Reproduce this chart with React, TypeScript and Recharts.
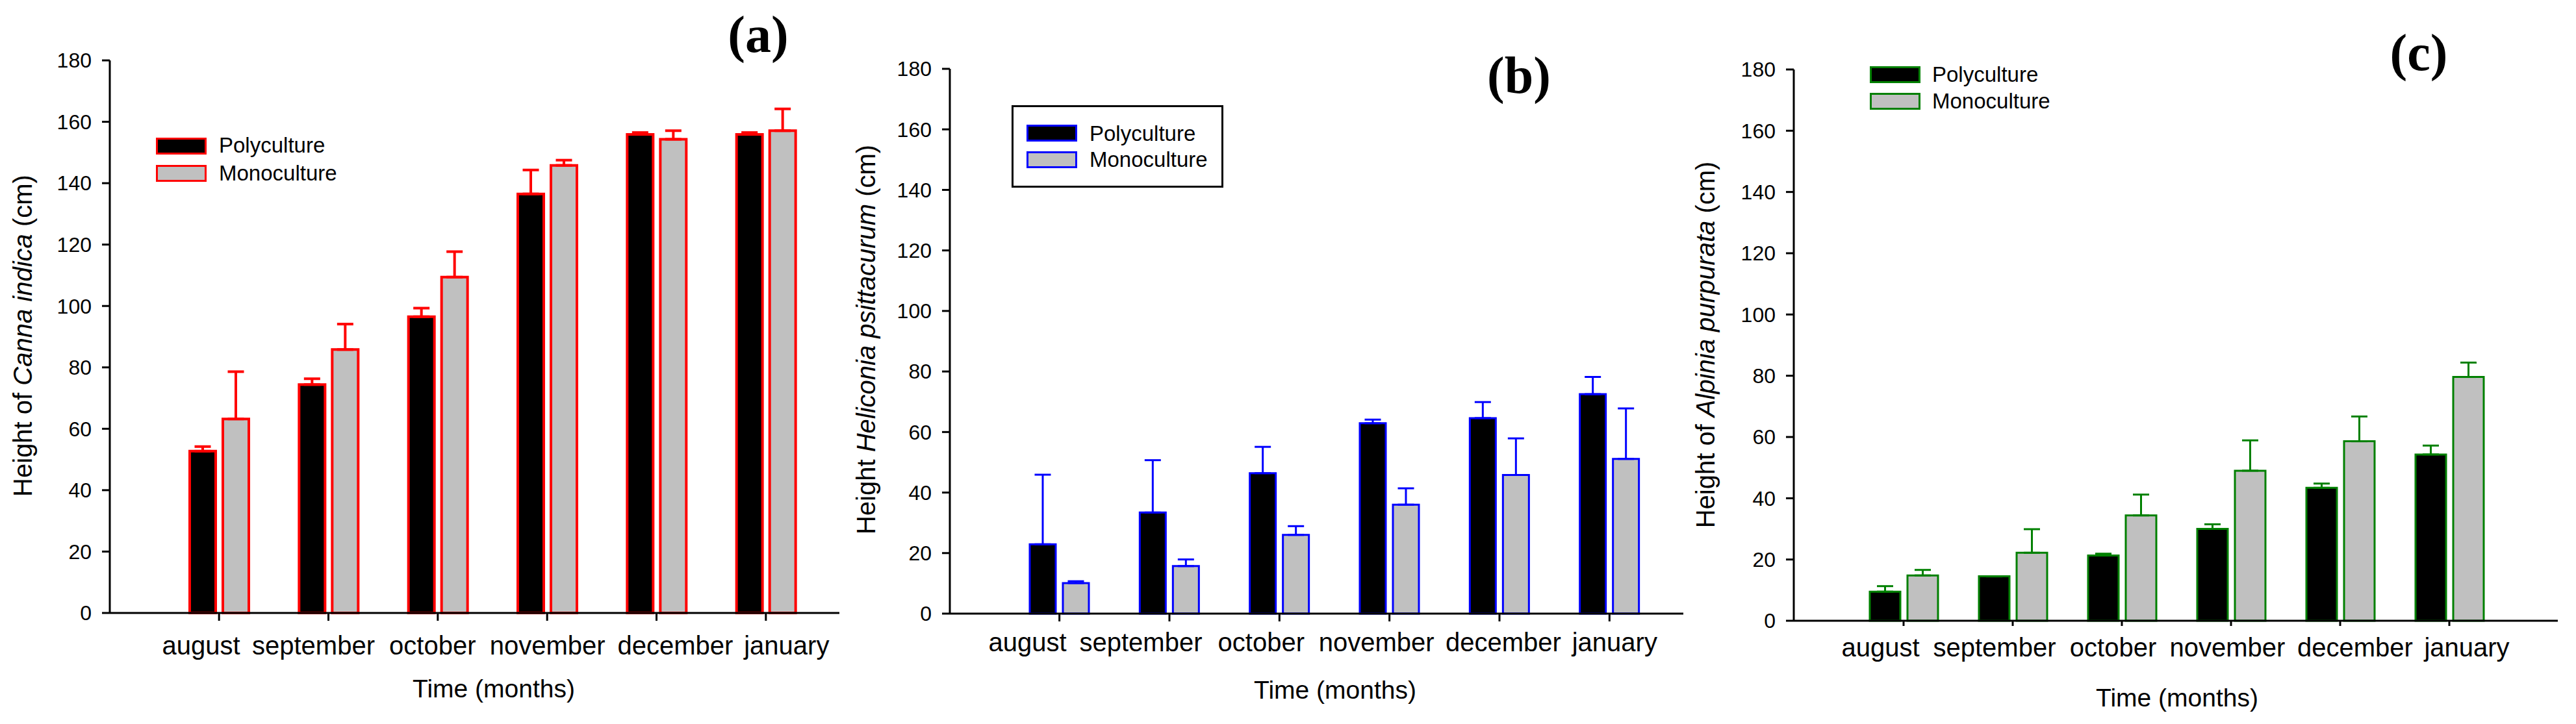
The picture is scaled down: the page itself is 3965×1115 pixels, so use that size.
import React from 'react'
import { BarChart, Bar, XAxis, YAxis, ErrorBar, Legend } from 'recharts'

// months on the x axis, same for all three panels
const months = ['august', 'september', 'october', 'november', 'december', 'january']
const yTicks = [0, 20, 40, 60, 80, 100, 120, 140, 160, 180]

// (a) Canna indica
const cannaPoly = [52.7, 74.4, 96.5, 136.5, 155.9, 155.9]
const cannaPolyErr = [1.5, 1.9, 2.8, 7.8, 0.6, 0.6]
const cannaMono = [63.2, 85.8, 109.4, 145.8, 154.3, 157.1]
const cannaMonoErr = [15.4, 8.3, 8.3, 1.7, 2.8, 7.1]

// (b) Heliconia psittacurum
const heliPoly = [22.9, 33.4, 46.4, 62.9, 64.6, 72.5]
const heliPolyErr = [23.0, 17.3, 8.7, 1.2, 5.3, 5.7]
const heliMono = [10.1, 15.7, 26.0, 36.0, 45.8, 51.1]
const heliMonoErr = [0.6, 2.2, 2.9, 5.4, 12.1, 16.7]

// (c) Alpinia purpurata
const alpPoly = [9.5, 14.5, 21.3, 30.0, 43.4, 54.3]
const alpPolyErr = [1.8, 0, 0.6, 1.5, 1.4, 2.9]
const alpMono = [14.8, 22.2, 34.4, 49.0, 58.6, 79.6]
const alpMonoErr = [1.8, 7.7, 6.8, 9.9, 8.1, 4.7]

const FONT = '"Liberation Sans", Arial, Helvetica, sans-serif'
const SERIF = '"Liberation Serif", "Times New Roman", serif'
const POLY_FILL = '#000000'
const MONO_FILL = '#c0c0c0'

const build = (poly: number[], polyErr: number[], mono: number[], monoErr: number[]) =>
    months.map((month, i) => ({
        month,
        poly: poly[i],
        mono: mono[i],
        polyErr: [0, polyErr[i]],
        monoErr: [0, monoErr[i]],
    }))

interface LegendSpec {
    x0: number
    y0: number
    w: number
    h: number
    box?: [number, number, number, number]
    swatchX: number
    swatchY: number[]
    textX: number
    baselines: number[]
}

interface Panel {
    key: string
    left: number
    width: number
    top: number
    right: number
    yAxisWidth: number
    xAxisHeight: number
    edge: string
    strokeWidth: number
    barSize: number
    barGap: number
    pad: { left: number; right: number }
    xTickSize: number
    xTickMargin: number
    labelShift: number[]
    yPrefix: string
    species: string
    yLabel: { x: number; y: number }
    letter: { text: string; x: number; y: number }
    timeLabel: { x: number; y: number }
    legend: LegendSpec
    data: ReturnType<typeof build>
}

const panels: Panel[] = [
    {
        key: 'a',
        left: 0,
        width: 1320,
        top: 93,
        right: 28,
        yAxisWidth: 169,
        xAxisHeight: 171,
        edge: '#ff0000',
        strokeWidth: 4,
        barSize: 40,
        barGap: 11,
        pad: { left: 84, right: 29 },
        xTickSize: 12,
        xTickMargin: 24,
        labelShift: [-27.5, -23, -8, 0.5, 29, 32],
        yPrefix: 'Height of ',
        species: 'Canna indica',
        yLabel: { x: 49, y: 517 },
        letter: { text: '(a)', x: 1167, y: 80 },
        timeLabel: { x: 760, y: 1074 },
        legend: { x0: 230, y0: 200, w: 420, h: 90, swatchX: 240, swatchY: [212, 254], textX: 337, baselines: [235, 278] },
        data: build(cannaPoly, cannaPolyErr, cannaMono, cannaMonoErr),
    },
    {
        key: 'b',
        left: 1290,
        width: 1350,
        top: 106,
        right: 49,
        yAxisWidth: 172,
        xAxisHeight: 170,
        edge: '#0000ff',
        strokeWidth: 3,
        barSize: 40,
        barGap: 11,
        pad: { left: 84, right: 29 },
        xTickSize: 12,
        xTickMargin: 18,
        labelShift: [-49, -44, -28, -20, 6, 8],
        yPrefix: 'Height ',
        species: 'Heliconia psittacurum',
        yLabel: { x: 1347, y: 523 },
        letter: { text: '(b)', x: 2338, y: 143 },
        timeLabel: { x: 2055, y: 1076 },
        legend: {
            x0: 1550, y0: 155, w: 340, h: 140, box: [1557, 162, 1883, 289],
            swatchX: 1580, swatchY: [192, 233], textX: 1677, baselines: [217, 257],
        },
        data: build(heliPoly, heliPolyErr, heliMono, heliMonoErr),
    },
    {
        key: 'c',
        left: 2590,
        width: 1375,
        top: 107,
        right: 28,
        yAxisWidth: 171,
        xAxisHeight: 159,
        edge: '#008000',
        strokeWidth: 3,
        barSize: 47,
        barGap: 11,
        pad: { left: 85, right: 83 },
        xTickSize: 8,
        xTickMargin: 19,
        labelShift: [-35.5, -28, -13.5, -5.5, 23, 27],
        yPrefix: 'Height of ',
        species: 'Alpinia purpurata',
        yLabel: { x: 2639, y: 531 },
        letter: { text: '(c)', x: 3723, y: 108 },
        timeLabel: { x: 3351, y: 1088 },
        legend: { x0: 2868, y0: 92, w: 400, h: 90, swatchX: 2878, swatchY: [102, 143], textX: 2974, baselines: [126, 167] },
        data: build(alpPoly, alpPolyErr, alpMono, alpMonoErr),
    },
]

const series = [
    { key: 'poly', err: 'polyErr', name: 'Polyculture', fill: POLY_FILL },
    { key: 'mono', err: 'monoErr', name: 'Monoculture', fill: MONO_FILL },
]

function PanelChart({ p }: { p: Panel }) {
    const L = p.legend
    const legendContent = () => (
        <svg width={L.w} height={L.h} style={{ display: 'block', overflow: 'visible' }}>
            {L.box && (
                <rect
                    x={L.box[0] - L.x0 + 1.5}
                    y={L.box[1] - L.y0 + 1.5}
                    width={L.box[2] - L.box[0] - 3}
                    height={L.box[3] - L.box[1] - 3}
                    fill="none"
                    stroke="#000"
                    strokeWidth={3}
                />
            )}
            {series.map((s, i) => (
                <g key={s.key}>
                    <rect
                        x={L.swatchX - L.x0 + 1.5}
                        y={L.swatchY[i] - L.y0 + 1.5}
                        width={75}
                        height={23}
                        fill={s.fill}
                        stroke={p.edge}
                        strokeWidth={3}
                    />
                    <text x={L.textX - L.x0} y={L.baselines[i] - L.y0} fontSize={33} fontFamily={FONT} fill="#000">
                        {s.name}
                    </text>
                </g>
            ))}
        </svg>
    )

    const monthTick = (props: any) => {
        const { x, y, payload, index } = props
        return (
            <text x={x + (p.labelShift[index] ?? 0)} y={y + 28} textAnchor="middle" fontSize={40} fontFamily={FONT} fill="#000">
                {payload.value}
            </text>
        )
    }

    const yLabel = () => {
        const x = p.yLabel.x - p.left
        const y = p.yLabel.y
        return (
            <g>
                <text x={x} y={y} transform={`rotate(-90 ${x} ${y})`} textAnchor="middle" fontSize={40} fontFamily={FONT} fill="#000">
                    {p.yPrefix}
                    <tspan fontStyle="italic">{p.species}</tspan>
                    {' (cm)'}
                </text>
                <text x={p.letter.x - p.left} y={p.letter.y} textAnchor="middle" fontSize={80} fontWeight="bold" fontFamily={SERIF} fill="#000">
                    {p.letter.text}
                </text>
            </g>
        )
    }

    const xLabel = () => (
        <text x={p.timeLabel.x - p.left} y={p.timeLabel.y} textAnchor="middle" fontSize={39} fontFamily={FONT} fill="#000">
            Time (months)
        </text>
    )

    return (
        <div style={{ position: 'absolute', left: p.left, top: 0 }}>
            <BarChart
                width={p.width}
                height={1115}
                data={p.data}
                barGap={p.barGap}
                margin={{ top: p.top, right: p.right, bottom: 0, left: 0 }}
            >
                <XAxis
                    dataKey="month"
                    interval={0}
                    height={p.xAxisHeight}
                    padding={p.pad}
                    tickSize={p.xTickSize}
                    tickMargin={p.xTickMargin}
                    axisLine={{ stroke: '#000', strokeWidth: 3 }}
                    tickLine={{ stroke: '#000', strokeWidth: 3 }}
                    tick={monthTick}
                    label={{ value: 'Time (months)', content: xLabel }}
                />
                <YAxis
                    type="number"
                    domain={[0, 180]}
                    ticks={yTicks}
                    interval={0}
                    width={p.yAxisWidth}
                    tickSize={12}
                    tickMargin={16}
                    axisLine={{ stroke: '#000', strokeWidth: 3 }}
                    tickLine={{ stroke: '#000', strokeWidth: 3 }}
                    tick={{ fill: '#000', fontSize: 32, fontFamily: FONT }}
                    label={{ value: p.species, content: yLabel }}
                />
                <Legend
                    layout="vertical"
                    align="center"
                    verticalAlign="middle"
                    width={L.w}
                    height={L.h}
                    wrapperStyle={{ left: L.x0 - p.left, top: L.y0, width: L.w, height: L.h }}
                    content={legendContent}
                />
                {series.map((s) => (
                    <Bar
                        key={s.key}
                        dataKey={s.key}
                        name={s.name}
                        fill={s.fill}
                        stroke={p.edge}
                        strokeWidth={p.strokeWidth}
                        barSize={p.barSize}
                        isAnimationActive={false}
                    >
                        <ErrorBar
                            dataKey={s.err}
                            direction="y"
                            width={12.5}
                            stroke={p.edge}
                            strokeWidth={p.strokeWidth}
                            isAnimationActive={false}
                        />
                    </Bar>
                ))}
            </BarChart>
        </div>
    )
}

export default function App() {
    return (
        <div style={{ position: 'absolute', left: 0, top: 0, width: 3965, height: 1115, background: '#fff', overflow: 'hidden' }}>
            {panels.map((p) => (
                <PanelChart key={p.key} p={p} />
            ))}
        </div>
    )
}
